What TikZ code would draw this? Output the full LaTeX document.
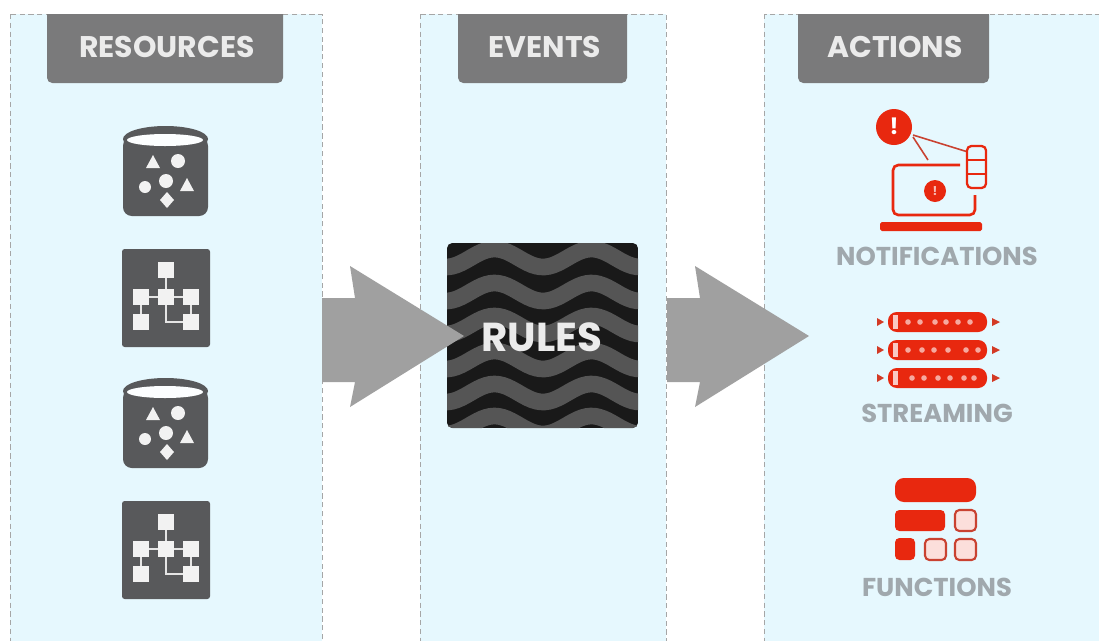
\documentclass[tikz,border=0pt]{standalone}
\usepackage{xcolor}
\usepackage{fontspec}
\setmainfont{Poppins}
\usepackage{tikz}
\usetikzlibrary{calc}
\usetikzlibrary{positioning}
\definecolor{panelblue}{HTML}{E6F8FE}
\definecolor{headgray}{HTML}{7A7A7B}
\definecolor{icongray}{HTML}{58595B}
\definecolor{bandgray}{HTML}{555555}
\definecolor{arrowgray}{HTML}{A0A0A0}
\definecolor{labelgray}{HTML}{A0A8AD}
\definecolor{iconred}{HTML}{E8280F}
\tikzset{
  panel/.style={draw=gray!70,densely dashed,very thin,fill=panelblue},
  headtext/.style={text=white!92!black,font=\bfseries\fontsize{17}{19}\selectfont},
  labeltext/.style={text=labelgray,font=\bfseries\fontsize{14.7}{16}\selectfont},
  redline/.style={draw=iconred,line width=1.5pt},
  redfill/.style={fill=iconred,rounded corners=2.5pt},
  redbox/.style={draw=iconred!70!gray,line width=1.2pt,fill=white!85!iconred,rounded corners=2.5pt},
  whitemark/.style={fill=white!95!black},
}
\begin{document}
\begin{tikzpicture}[x=0.02cm,y=-0.02cm]
\useasboundingbox (0,0) rectangle (1099,640);
\fill[white] (0,0) rectangle (1099,640);
% panels
\draw[panel] (10,14) rectangle (322,645);
\draw[panel] (420,14) rectangle (666,645);
\draw[panel] (764,14) rectangle (1105,645);
\foreach \a/\b in {47/283,458/627,798/989}
  \fill[headgray] (\a,14) [rounded corners=3pt] -- (\a,83) -- (\b,83) [sharp corners] -- (\b,14) -- cycle;
\node[headtext] (resources) at (167,47) {RESOURCES};
\node[headtext] (events) at (545,47) {EVENTS};
\node[headtext] (actions) at (895,47) {ACTIONS};
% rules box
\begin{scope}
\clip[rounded corners=3pt] (447,243) rectangle (638,428);
\fill[black!90] (447,243) rectangle (638,428);
\foreach \y in {258,292,325,360,393,425}
  \draw[bandgray,line width=9.5pt] plot[domain=440:645,samples=50] (\x,{\y+9*cos(3.711*(\x-543))});
\end{scope}
% big arrows
\foreach \x in {322,667}
  \fill[arrowgray,shift={(\x,337)}] (0,-39) -- (33,-39) -- (28,-71) -- (142,-1) -- (28,70) -- (33,45) -- (0,45) -- cycle;
\node[text=white!92!black,font=\bfseries\fontsize{23}{25}\selectfont] (rules) at (542,337) {RULES};
% resource icons
\foreach \y in {0,252} {
  \begin{scope}[shift={(0,\y)}]
  \fill[icongray,rounded corners=5pt] (123,137) rectangle (208,216);
  \fill[icongray] (165.5,139) ellipse (42.5 and 13);
  \fill[white!90!panelblue] (165,140) ellipse (38 and 6);
  \fill[whitemark] (153,155) -- (160,168) -- (146,168) -- cycle;
  \fill[whitemark] (187,178) -- (194,191) -- (180,191) -- cycle;
  \fill[whitemark] (178,161) circle (7);
  \fill[whitemark] (145,187) circle (6);
  \fill[whitemark] (166,181) circle (7);
  \fill[whitemark] (167,192) -- (174,200) -- (167,208) -- (160,200) -- cycle;
  \fill[icongray,rounded corners=1.5pt] (122,249) rectangle (210,347);
  \draw[white!90!black,line width=0.8pt] (141,297) -- (191,297) (141,297) -- (141,322) (166,270) -- (166,297) -- (166,322) -- (191,322) -- (191,297);
  \foreach \a/\b in {166/270,141/297,166/297,191/297,141/322,191/322}
    \fill[whitemark] (\a-8,\b-8) rectangle (\a+8,\b+8);
  \end{scope}
}
% notifications icon
\draw[redline,draw=iconred!70!gray,line width=0.9pt] (913,137) -- (928,160) (913,135) -- (968,152);
\draw[redline,rounded corners=3pt] (960,165) -- (893,165) -- (893,215) -- (975,215) -- (975,195);
\fill[iconred,rounded corners=1pt] (880,222) rectangle (982,231);
\fill[iconred] (894,127) circle (18);
\fill[iconred] (935,191) circle (11);
\node[text=white,font=\bfseries\fontsize{13}{14}\selectfont] (bigmark) at (894,126) {!};
\node[text=white!70!iconred,font=\bfseries\fontsize{7}{8}\selectfont] (smallmark) at (935,191) {!};
\draw[redline,line width=1.3pt,rounded corners=2.5pt,fill=panelblue] (967,146) rectangle (986,188);
\draw[iconred,line width=1.2pt] (967,160) -- (986,160) (967,174) -- (986,174);
\node[labeltext] (notifications) at (937,256) {NOTIFICATIONS};
% streaming icon
\foreach \y/\d in {322/{0,12,27,38,50,62},350/{0,14,26,40,58,70},378/{4,16,30,42,56,66}} {
  \fill[iconred,rounded corners=5pt] (888,\y-10) rectangle (987,\y+10);
  \fill[white!75!iconred] (893,\y-7) rectangle (898,\y+7);
  \foreach \a in \d
    \fill[white!60!iconred] (908+\a,\y) circle (2.8);
  \fill[iconred!80!gray] (877,\y-4) -- (884,\y) -- (877,\y+4) -- cycle;
  \fill[iconred!80!gray] (992,\y-4) -- (1000,\y) -- (992,\y+4) -- cycle;
}
\node[labeltext] (streaming) at (937,413) {STREAMING};
% functions icon
\fill[redfill,rounded corners=5pt] (895,478) rectangle (976,502);
\fill[redfill] (895,510) rectangle (945,531);
\fill[redfill] (895,538) rectangle (915,560);
\foreach \a/\b in {955/510,925/539,955/539}
  \draw[redbox] (\a,\b) rectangle (\a+21,\b+21);
\node[labeltext] (functions) at (937,587) {FUNCTIONS};
\end{tikzpicture}
\end{document}
